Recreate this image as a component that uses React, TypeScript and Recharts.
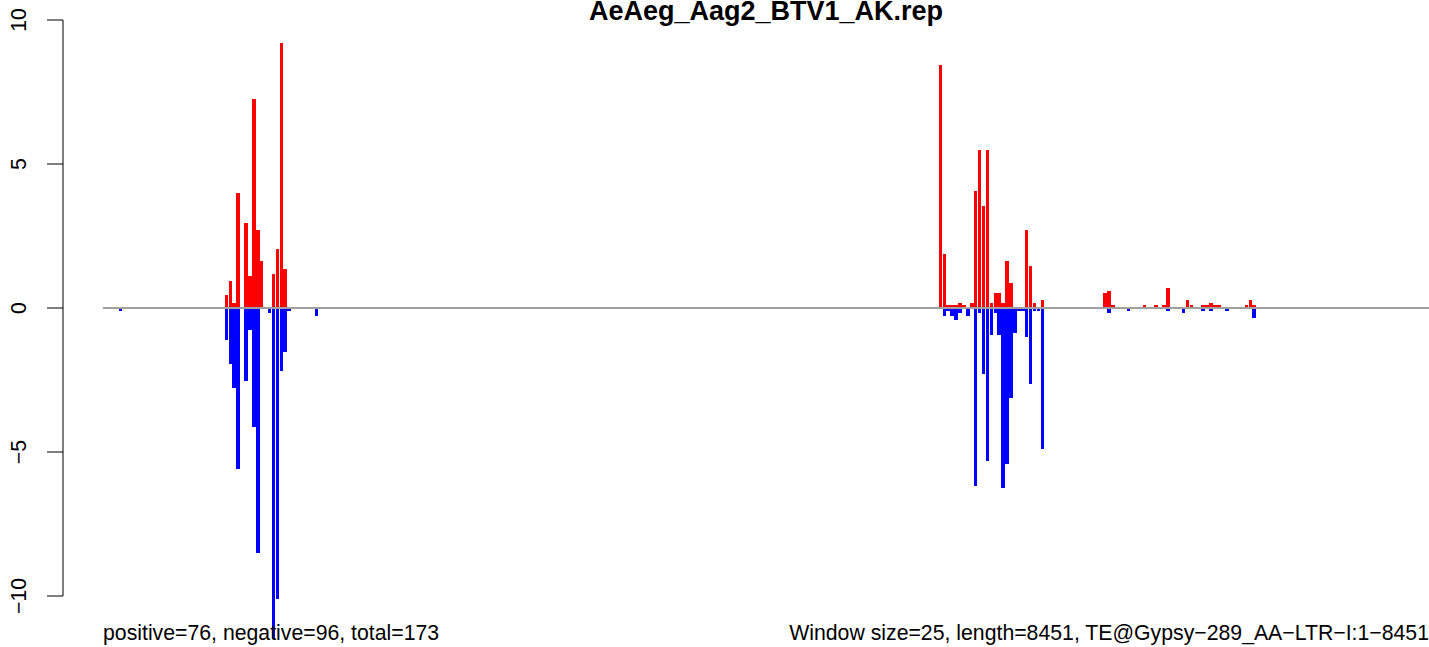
import React from 'react';
import { BarChart, Bar, XAxis, YAxis, ReferenceLine } from 'recharts';

const TITLE = 'AeAeg_Aag2_BTV1_AK.rep';
const LEFT_NOTE = 'positive=76, negative=96, total=173';
const RIGHT_NOTE = 'Window size=25, length=8451, TE@Gypsy\u2212289_AA\u2212LTR\u2212I:1\u22128451';
const WINDOW_COUNT = 338;
const Y_TICKS = [-10, -5, 0, 5, 10];
const Y_TICK_LABELS = ['\u221210', '\u22125', '0', '5', '10'];

const posIndex = [31, 32, 33, 34, 36, 37, 38, 39, 40, 43, 44, 45, 46,
  213, 214, 215, 216, 217, 218, 219, 221, 222, 223, 224, 225, 226, 227, 228, 229, 230, 231, 235, 236, 237, 239,
  255, 256, 257, 265, 268, 270, 271, 276, 277, 280, 281, 282, 283, 284, 291, 292, 293];
const posValue = [0.45, 0.94, 0.18, 3.99, 2.95, 1.12, 7.27, 2.71, 1.63, 1.18, 2.05, 9.21, 1.35,
  8.44, 1.875, 0.1, 0.1, 0.1, 0.17, 0.1, 0.17, 4.06, 5.49, 3.54, 5.49, 0.17, 0.52, 0.52, 0.17, 1.63, 0.87, 2.71, 1.46, 0.17, 0.28,
  0.52, 0.59, 0.1, 0.1, 0.1, 0.1, 0.69, 0.28, 0.1, 0.1, 0.1, 0.17, 0.1, 0.1, 0.1, 0.28, 0.1];

const negIndex = [4, 31, 32, 33, 34, 36, 37, 38, 39, 42, 43, 44, 45, 46, 47, 54,
  214, 215, 216, 217, 218, 220, 222, 223, 224, 225, 226, 227, 228, 229, 230, 231, 232, 233, 234, 235, 236, 237, 238, 239,
  256, 261, 271, 275, 280, 282, 286, 293];
const negValue = [-0.09, -1.1, -1.93, -2.77, -5.58, -2.52, -0.76, -4.12, -8.5, -0.16, -11.5, -10.12, -2.18, -1.52, -0.09, -0.27,
  -0.27, -0.09, -0.27, -0.4, -0.16, -0.27, -6.17, -0.16, -2.28, -5.3, -0.93, -0.16, -0.93, -6.24, -5.41, -3.11, -0.86, -0.09, -0.09, -1.0, -2.63, -0.09, -0.09, -4.89,
  -0.16, -0.09, -0.09, -0.16, -0.09, -0.09, -0.09, -0.34];

const data = Array.from({ length: WINDOW_COUNT }, (_, i) => {
  const p = posIndex.indexOf(i);
  const n = negIndex.indexOf(i);
  return { i, pos: p >= 0 ? posValue[p] : null, neg: n >= 0 ? negValue[n] : null };
});

const FONT = '"Liberation Sans", Arial, Helvetica, sans-serif';

const YTick = (props: any) => {
  const { y, payload } = props;
  const idx = Y_TICKS.indexOf(payload.value);
  const lx = 25.5;
  return (
    <text x={lx} y={y} transform={`rotate(-90 ${lx} ${y})`} textAnchor="middle" fontSize={21.25} fontFamily={FONT} fill="#000">
      {Y_TICK_LABELS[idx]}
    </text>
  );
};

export default function App() {
  return (
    <div style={{ position: 'absolute', left: 0, top: 0, width: 1429, height: 647, background: '#fff' }}>
      <style>{`.recharts-wrapper [clip-path] { clip-path: none !important; }`}</style>
      <BarChart
        width={1429}
        height={647}
        data={data}
        margin={{ top: 20, right: 0, bottom: 51, left: 0 }}
        barCategoryGap={0}
        barGap={0}
      >
        <XAxis xAxisId="p" dataKey="i" type="category" hide />
        <XAxis xAxisId="n" dataKey="i" type="category" hide />
        <YAxis
          width={103}
          domain={[-10, 10]}
          allowDataOverflow
          ticks={Y_TICKS}
          interval={0}
          tickSize={16}
          axisLine={{ stroke: '#000', strokeWidth: 1, transform: 'translate(-40 0)' }}
          tickLine={{ stroke: '#000', strokeWidth: 1, transform: 'translate(-40 0)' }}
          tick={<YTick />}
        />
        <Bar xAxisId="p" dataKey="pos" fill="#FF0000" barSize={4.4} isAnimationActive={false} shapeRendering="crispEdges" />
        <Bar xAxisId="n" dataKey="neg" fill="#0000FF" barSize={4.4} isAnimationActive={false} shapeRendering="crispEdges" />
        <ReferenceLine xAxisId="p" y={0} stroke="#A0A0A0" strokeWidth={2} />
      </BarChart>
      <svg width={1429} height={647} style={{ position: 'absolute', left: 0, top: 0, pointerEvents: 'none' }}>
        <text x={766} y={19.5} textAnchor="middle" fontSize={27} fontWeight="bold" fontFamily={FONT} fill="#000">{TITLE}</text>
        <text x={103} y={640} textAnchor="start" fontSize={21.25} fontFamily={FONT} fill="#000">{LEFT_NOTE}</text>
        <text x={1429} y={640} textAnchor="end" fontSize={21.25} fontFamily={FONT} fill="#000">{RIGHT_NOTE}</text>
      </svg>
    </div>
  );
}
